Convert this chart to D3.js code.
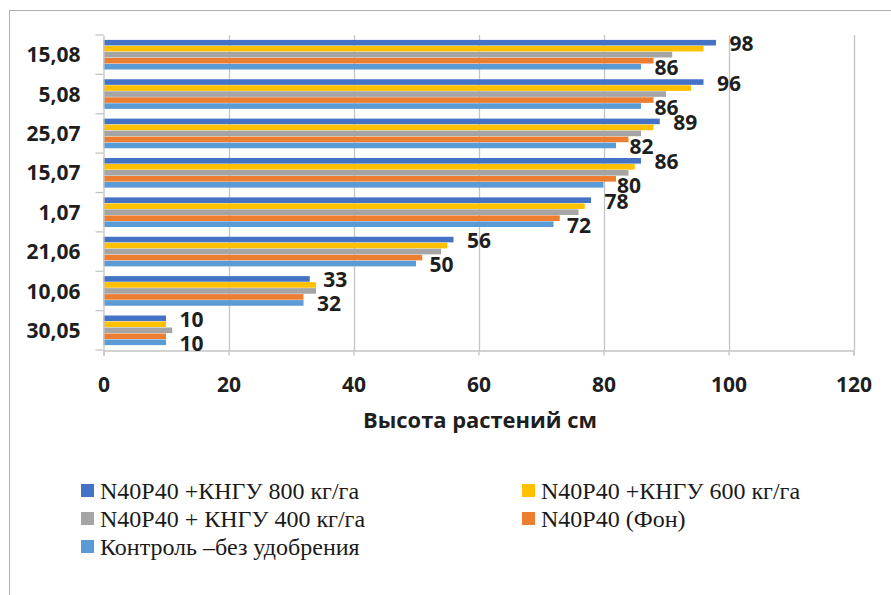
<!DOCTYPE html>
<html><head><meta charset="utf-8">
<script src="https://cdn.jsdelivr.net/npm/d3@7"></script>
<style>body{margin:0;background:#fff}svg{display:block}</style>
</head><body>
<svg id="c" width="891" height="595"></svg>
<script>
const categories = ["15,08","5,08","25,07","15,07","1,07","21,06","10,06","30,05"];
const seriesNames = ["N40P40 +КНГУ 800 кг/га","N40P40 +КНГУ 600 кг/га","N40P40 + КНГУ 400 кг/га","N40P40 (Фон)","Контроль –без удобрения"];
const s800   = [98,96,89,86,78,56,33,10];
const s600   = [96,94,88,85,77,55,34,10];
const s400   = [91,90,86,84,76,54,34,11];
const sFon   = [88,88,84,82,73,51,32,10];
const sCtrl  = [86,86,82,80,72,50,32,10];
const seriesValues = [s800,s600,s400,sFon,sCtrl];
const colors = ["#4472C4","#FFC000","#A5A5A5","#ED7D31","#5B9BD5"];
const labeledSeries = [0,4];
const xTicks = [0,20,40,60,80,100,120];
const xTitle = "Высота растений см";

(function(){
const svg = d3.select("#c");
const font = '"Open Sans"';
const serifFont = '"Liberation Serif"';
const txt = "#1e1e1e";
const pL = 103.5, pR = 853.5, pT = 35, pB = 350;

svg.append("rect").attr("x",9.5).attr("y",10.5).attr("width",1000).attr("height",1000)
  .attr("fill","none").attr("stroke","#b0b0b0").attr("stroke-width",1);

const x = d3.scaleLinear().domain([0,120]).range([pL,pR]);
const y = d3.scaleBand().domain(categories).range([pT,pB]).paddingInner(0).paddingOuter(0);
const yi = d3.scaleBand().domain(d3.range(5)).range([0,y.bandwidth()]).paddingInner(0).paddingOuter(0.78);

svg.append("g").selectAll("line").data(xTicks.slice(1)).join("line")
  .attr("x1",d=>Math.round(x(d))+0.5).attr("x2",d=>Math.round(x(d))+0.5)
  .attr("y1",pT).attr("y2",pB).attr("stroke","#c4c4c4").attr("stroke-width",1.3);

const data = [];
categories.forEach((c,ci)=>seriesValues.forEach((arr,si)=>data.push({c,si,v:arr[ci]})));
svg.append("g").selectAll("rect").data(data).join("rect")
  .attr("x",x(0)).attr("y",d=>y(d.c)+yi(d.si)+0.2)
  .attr("width",d=>x(d.v)-x(0)).attr("height",yi.bandwidth()-0.4)
  .attr("fill",d=>colors[d.si]);

const xAxis = d3.axisBottom(x).tickValues(xTicks).tickSize(5).tickFormat(d3.format("d"));
const gx = svg.append("g").attr("transform",`translate(0,${pB+0.5})`).call(xAxis);
gx.select(".domain").attr("stroke","#c4c4c4").attr("stroke-width",1.3);
gx.selectAll(".tick line").attr("stroke","#c4c4c4").attr("stroke-width",1.3);
gx.selectAll(".tick text").style("font-family",font).attr("font-weight",700).attr("font-size",21)
  .attr("fill",txt).attr("dy",null).attr("y",41);

const yAxis = d3.axisLeft(y).tickSize(0).tickPadding(23);
const gy = svg.append("g").attr("transform",`translate(${pL},0)`).call(yAxis);
gy.select(".domain").attr("stroke","#c4c4c4").attr("stroke-width",1.3);
gy.selectAll(".tick text").style("font-family",font).attr("font-weight",700).attr("font-size",21)
  .attr("fill",txt).attr("dy","0.36em");
const bounds = categories.map(c=>y(c)).concat([pB]);
gy.append("g").selectAll("line").data(bounds).join("line")
  .attr("x1",-8).attr("x2",0).attr("y1",d=>d).attr("y2",d=>d)
  .attr("stroke","#c4c4c4").attr("stroke-width",1.3);

svg.append("g").selectAll("text").data(data.filter(d=>labeledSeries.includes(d.si))).join("text")
  .attr("x",d=>x(d.v)+13.5).attr("y",d=>y(d.c)+yi(d.si)+yi.bandwidth()/2+8.5)
  .style("font-family",font).attr("font-weight",700).attr("font-size",21).attr("fill",txt)
  .text(d=>d.v);

svg.append("text").attr("x",480).attr("y",428).attr("text-anchor","middle")
  .style("font-family",font).attr("font-weight",700).attr("font-size",21.5).attr("fill",txt)
  .attr("textLength",234).attr("lengthAdjust","spacingAndGlyphs")
  .text(xTitle);

const legPos = [[81,499],[522,499],[81,527],[522,527],[81,555]];
const legG = svg.append("g").style("font-family",serifFont);
seriesNames.forEach((name,i)=>{
  legG.append("rect").attr("x",legPos[i][0]).attr("y",legPos[i][1]-15).attr("width",13).attr("height",13).attr("fill",colors[i]);
  legG.append("text").attr("x",legPos[i][0]+19).attr("y",legPos[i][1])
    .style("font-family",serifFont).style("font-size","24px").attr("fill","#1a1a1a").text(name);
});
})();
</script>
</body></html>
